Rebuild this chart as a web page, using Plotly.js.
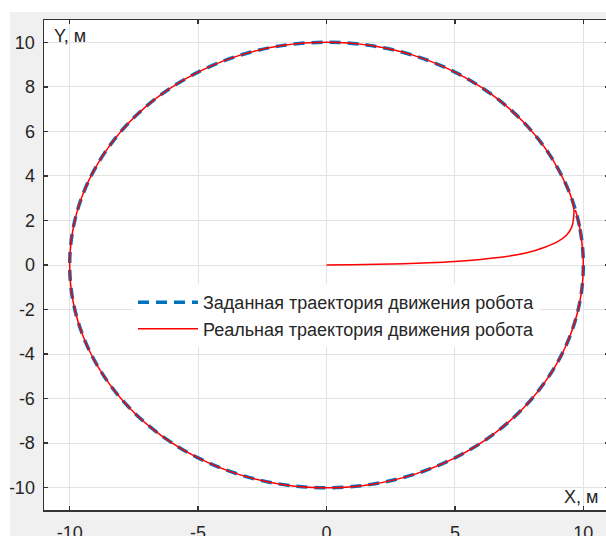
<!DOCTYPE html>
<html>
<head>
<meta charset="utf-8">
<script src="https://cdn.plot.ly/plotly-3.0.1.min.js"></script>
<style>
html, body { margin:0; padding:0; background:#ffffff; overflow:hidden; width:606px; height:536px; }
#plot { position:absolute; left:10px; top:12px; width:610px; height:524px; }
</style>
</head>
<body>
<div id="plot"></div>
<script>
// Desired trajectory (circle, R = 10 m)
const desiredX = [10, 9.85, 9.40, 8.66, 7.66, 6.43, 5.00, 3.42, 1.74, 0, -1.74, -3.42, -5.00, -6.43, -7.66, -8.66, -9.40, -9.85, -10,
  -9.85, -9.40, -8.66, -7.66, -6.43, -5.00, -3.42, -1.74, 0, 1.74, 3.42, 5.00, 6.43, 7.66, 8.66, 9.40, 9.85, 10];
const desiredY = [0, 1.74, 3.42, 5.00, 6.43, 7.66, 8.66, 9.40, 9.85, 10, 9.85, 9.40, 8.66, 7.66, 6.43, 5.00, 3.42, 1.74, 0,
  -1.74, -3.42, -5.00, -6.43, -7.66, -8.66, -9.40, -9.85, -10, -9.85, -9.40, -8.66, -7.66, -6.43, -5.00, -3.42, -1.74, 0];

// Real trajectory of the robot
const realX = [0, 1, 2, 3, 4, 5, 6, 7, 7.8, 8.5, 9.0, 9.35, 9.55, 9.62, 9.63, 9.56,
  9.40, 8.66, 7.66, 6.43, 5.00, 3.42, 1.74, 0, -1.74, -3.42, -5.00, -6.43, -7.66, -8.66, -9.40, -9.85, -10,
  -9.85, -9.40, -8.66, -7.66, -6.43, -5.00, -3.42, -1.74, 0, 1.74, 3.42, 5.00, 6.43, 7.66, 8.66, 9.40, 9.85, 10, 9.85, 9.69];
const realY = [0, 0.01, 0.03, 0.06, 0.10, 0.16, 0.25, 0.38, 0.55, 0.80, 1.05, 1.35, 1.70, 2.10, 2.50, 2.93,
  3.42, 5.00, 6.43, 7.66, 8.66, 9.40, 9.85, 10, 9.85, 9.40, 8.66, 7.66, 6.43, 5.00, 3.42, 1.74, 0,
  -1.74, -3.42, -5.00, -6.43, -7.66, -8.66, -9.40, -9.85, -10, -9.85, -9.40, -8.66, -7.66, -6.43, -5.00, -3.42, -1.74, 0, 1.74, 2.47];

const legendNames = ['Заданная траектория движения робота', 'Реальная траектория движения робота'];
const xTicks = [-10, -5, 0, 5, 10];
const xTickText = ['-10', '-5', '0', '5', '10'];
const yTicks = [-10, -8, -6, -4, -2, 0, 2, 4, 6, 8, 10];
const yTickText = ['-10', '-8', '-6', '-4', '-2', '0', '2', '4', '6', '8', '10'];
const xLabel = 'X, м';
const yLabel = 'Y, м';

const FONT = 'Liberation Sans, Arial, sans-serif';
const TXT = '#262626';

const traces = [
  { x: desiredX, y: desiredY, type: 'scatter', mode: 'lines', name: legendNames[0],
    line: { color: '#0072BD', width: 3.5, dash: '11px,7px', shape: 'spline' } },
  { x: realX, y: realY, type: 'scatter', mode: 'lines', name: legendNames[1],
    line: { color: '#FF0000', width: 1.5, shape: 'spline' } }
];

const axisCommon = {
  showline: true, linecolor: '#333333', linewidth: 1.5, mirror: 'ticks',
  ticks: 'inside', ticklen: 4, tickwidth: 1.5, tickcolor: '#333333',
  showgrid: true, gridcolor: '#e3e3e3', gridwidth: 1, zeroline: false,
  tickfont: { family: FONT, size: 18, color: TXT }
};

const layout = {
  width: 610, height: 524,
  margin: { l: 34, r: 11, t: 8, b: 26 },
  paper_bgcolor: '#f0f0f0', plot_bgcolor: '#ffffff',
  showlegend: true,
  xaxis: Object.assign({}, axisCommon, { range: [-11, 11], tickvals: xTicks, ticktext: xTickText, ticklabelstandoff: 6 }),
  yaxis: Object.assign({}, axisCommon, { range: [-11, 11], tickvals: yTicks, ticktext: yTickText, ticklabelstandoff: 4 }),
  legend: {
    x: 0.1575, y: 0.461, xanchor: 'left', yanchor: 'top',
    bgcolor: '#ffffff', borderwidth: 0, itemwidth: 60,
    font: { family: FONT, size: 18, color: TXT }
  },
  annotations: [
    { text: yLabel, xref: 'paper', yref: 'paper', x: 0.014, y: 0.967, xanchor: 'left', yanchor: 'middle',
      showarrow: false, font: { family: FONT, size: 18, color: TXT } },
    { text: xLabel, xref: 'paper', yref: 'paper', x: 0.916, y: 0.026, xanchor: 'left', yanchor: 'middle',
      showarrow: false, font: { family: FONT, size: 18, color: TXT } }
  ]
};

Plotly.newPlot('plot', traces, layout, { staticPlot: true, displayModeBar: false });
</script>
</body>
</html>
